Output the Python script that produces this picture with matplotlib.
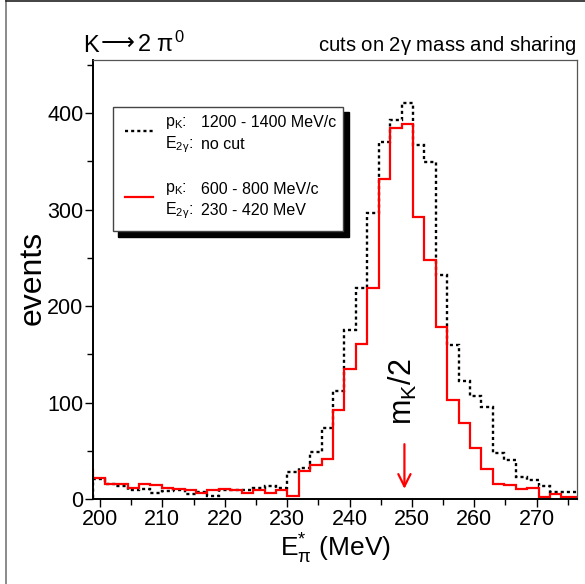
import numpy as np
import matplotlib.pyplot as plt
from matplotlib.lines import Line2D
from matplotlib.patches import Rectangle

plt.rcParams['font.family'] = ['Liberation Sans', 'DejaVu Sans']
plt.rcParams['mathtext.fontset'] = 'custom'
plt.rcParams['mathtext.rm'] = 'Liberation Sans'
plt.rcParams['mathtext.it'] = 'Liberation Sans'

# binning of the E*_pi histograms (MeV)
bin_start = 197.1
bin_width = 1.83

# counts per bin, p_K 1200-1400 MeV/c, no E_2gamma cut
counts_high = [0, 21, 16, 14, 10, 11, 7, 9, 10, 6, 8, 3, 10, 10, 10, 12, 14, 12,
               28, 32, 49, 74, 112, 175, 219, 297, 370, 393, 410, 367, 349, 232,
               160, 123, 107, 96, 48, 41, 23, 20, 14, 8, 8, 8]
# counts per bin, p_K 600-800 MeV/c, E_2gamma 230-420 MeV
counts_low = [30, 22, 16, 16, 12, 16, 15, 12, 11, 10, 7, 10, 11, 10, 7, 10, 7, 10,
              3, 29, 36, 42, 92, 135, 161, 219, 332, 385, 389, 292, 248, 178,
              103, 79, 53, 31, 16, 15, 11, 12, 2, 5, 2, 2]

x_range = (198.93, 276.46)
y_range = (0, 455)
mk_half = 248.8

edges = bin_start + bin_width * np.arange(len(counts_low) + 1)

fig = plt.figure(figsize=(5.85, 5.84), dpi=100)
ax = fig.add_axes([0.1595, 0.145, 0.8268, 0.7523])

ax.stairs(counts_high, edges, color='black', lw=1.7, linestyle=(0, (1.3, 1.3)),
          baseline=None)
ax.stairs(counts_low, edges, color='red', lw=1.6, baseline=None)

ax.set_xlim(*x_range)
ax.set_ylim(*y_range)
ax.set_xticks(np.arange(200, 271, 10))
ax.set_xticks(np.arange(205, 276, 10), minor=True)
ax.set_yticks(np.arange(0, 401, 100))
ax.set_yticks(np.arange(50, 451, 100), minor=True)
ax.tick_params(which='both', direction='out', labelsize=15.5, width=1, color='black')
ax.tick_params(which='major', length=6)
ax.tick_params(which='minor', length=4)
ax.tick_params(axis='x', pad=1)
ax.tick_params(axis='y', pad=1)

for side in ('left', 'bottom'):
    ax.spines[side].set_linewidth(1.4)
    ax.spines[side].set_color('black')
for side in ('top', 'right'):
    ax.spines[side].set_linewidth(0.9)
    ax.spines[side].set_color('#555555')

ax.set_ylabel('events', fontsize=23)
ax.yaxis.set_label_coords(-0.094, 0.505)
ax.set_xlabel(r'E$^{*}_{\pi}$ (MeV)', fontsize=19, labelpad=1)

fig.text(0.142, 0.911, 'K', fontsize=17, va='baseline')
fig.text(0.172, 0.914, '\u27f6', fontsize=17, va='baseline',
         family=['DejaVu Sans'])
fig.text(0.234, 0.911, r'2 $\pi^{0}$', fontsize=17, va='baseline')
fig.text(0.986, 0.913, r'cuts on 2$\gamma$ mass and sharing', fontsize=14.6,
         ha='right', va='baseline')

# kinematic edge marker
ax.annotate('', xy=(mk_half, 8), xytext=(mk_half, 60),
            arrowprops=dict(arrowstyle='->', color='red', lw=1.6,
                            mutation_scale=22))
ax.text(mk_half - 0.2, 77, r'm$_{K}$/2', rotation=90, fontsize=22,
        ha='center', va='bottom')

# legend box with drop shadow
box = dict(x0=0.0405, y0=0.61, w=0.4765, h=0.283)
ax.add_patch(Rectangle((box['x0'] + 0.011, box['y0'] - 0.012), box['w'], box['h'],
                       transform=ax.transAxes, facecolor='black', edgecolor='black',
                       zorder=5))
ax.add_patch(Rectangle((box['x0'], box['y0']), box['w'], box['h'],
                       transform=ax.transAxes, facecolor='white', edgecolor='#444444',
                       lw=1, zorder=6))
ax.add_line(Line2D([0.066, 0.124], [0.838, 0.838], transform=ax.transAxes,
                   color='black', lw=1.7, linestyle=(0, (1.3, 1.3)), zorder=7))
ax.add_line(Line2D([0.066, 0.124], [0.687, 0.687], transform=ax.transAxes,
                   color='red', lw=1.6, zorder=7))
rows = [
    (0.857, r'p$_{K}$:', '1200 - 1400 MeV/c'),
    (0.808, r'E$_{2\gamma}$:', 'no cut'),
    (0.706, r'p$_{K}$:', '600 - 800 MeV/c'),
    (0.657, r'E$_{2\gamma}$:', '230 - 420 MeV'),
]
for y, key, val in rows:
    ax.text(0.148, y, key, transform=ax.transAxes, fontsize=11.5, va='center', zorder=8)
    ax.text(0.222, y, val, transform=ax.transAxes, fontsize=11.5, va='center', zorder=8)

# page frame on the left and top
fig.add_artist(Line2D([0.0105, 0.0105], [0, 1], color='#777777', lw=1.2))
fig.add_artist(Line2D([0.0105, 1], [0.999, 0.999], color='#222222', lw=1.2))

fig.savefig('out.png', dpi=100)
